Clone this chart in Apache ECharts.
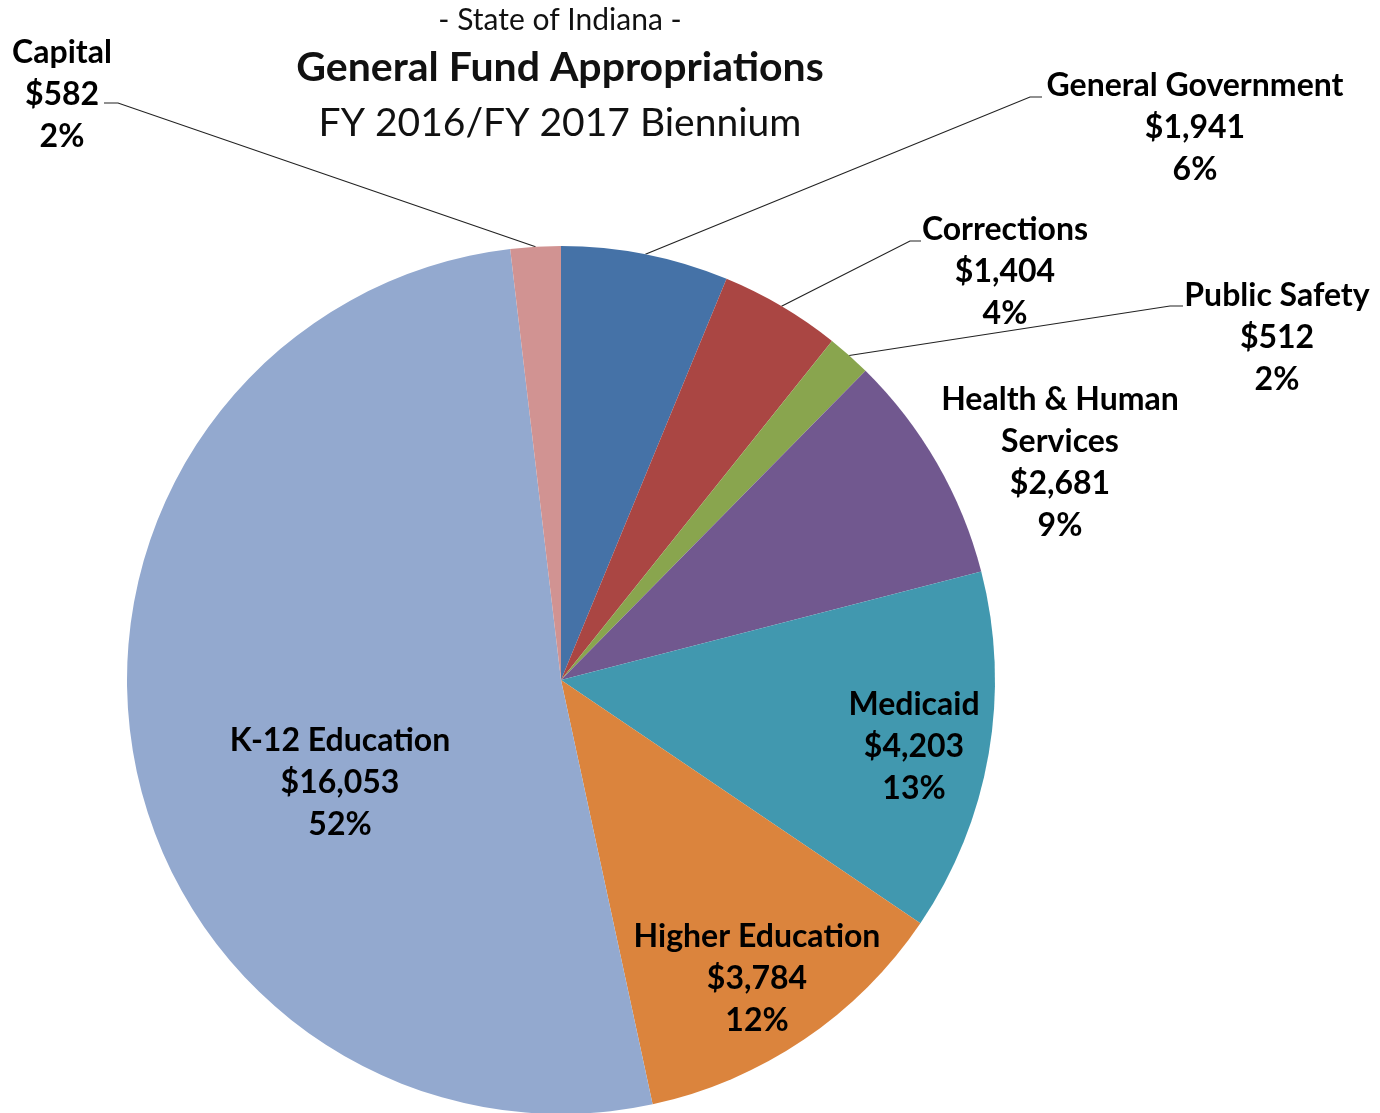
<!DOCTYPE html>
<html>
<head>
<meta charset="utf-8">
<style>
  html, body { margin: 0; padding: 0; background: #fff; }
  #chart { width: 1380px; height: 1113px; }
</style>
<script src="https://cdn.jsdelivr.net/npm/echarts@6/dist/echarts.min.js"></script>
</head>
<body>
<div id="chart"></div>
<script>
// appropriations, $ millions, clockwise from 12 o'clock
const categories = ["General Government", "Corrections", "Public Safety", "Health & Human\nServices", "Medicaid", "Higher Education", "K-12 Education", "Capital"];
const amounts = [1941, 1404, 512, 2681, 4203, 3784, 16053, 582];
const colors = ["#4572A7", "#AA4643", "#89A54E", "#71588F", "#4198AF", "#DB843D", "#93A9CF", "#D19392"];

const titleLines = ["- State of Indiana -", "General Fund Appropriations", "FY 2016/FY 2017 Biennium"];

// label block centres and leader elbows (layout only)
const labelPos = [[1195, 128], [1005, 272], [1277, 338], [1060, 463], [914, 747], [757, 979], [340, 783], [62, 95]];
const labelInside = [false, false, false, false, true, true, true, false];
const leaders = [
  [[1030, 97], [1042, 97]],
  [[910, 241], [921, 241]],
  [[1170, 306], [1183, 306]],
  null, null, null, null,
  [[118, 103], [104, 103]]
];

const CX = 561, CY = 680, R = 434;
const total = amounts.reduce((a, b) => a + b, 0);

function edgePoint(i) {
  let before = 0;
  for (let k = 0; k < i; k++) before += amounts[k];
  const mid = (before + amounts[i] / 2) / total * Math.PI * 2;
  return [CX + R * Math.sin(mid), CY - R * Math.cos(mid)];
}

const font = "Lato, 'Open Sans', sans-serif";
let myChart = echarts.init(document.getElementById("chart"));

let option = {
  animation: false,
  graphic: [
    { type: "text", x: 560, y: 20, style: { text: titleLines[0], font: "normal 30px " + font, fill: "#111", align: "center", verticalAlign: "middle" } },
    { type: "text", x: 560, y: 68, style: { text: titleLines[1], font: "bold 41px " + font, fill: "#111", align: "center", verticalAlign: "middle" } },
    { type: "text", x: 560, y: 123, style: { text: titleLines[2], font: "normal 39px " + font, fill: "#111", align: "center", verticalAlign: "middle" } }
  ],
  series: [
    {
      type: "pie",
      center: [CX, CY],
      radius: R,
      startAngle: 90,
      clockwise: true,
      percentPrecision: 0,
      avoidLabelOverlap: false,
      itemStyle: { borderWidth: 0 },
      label: {
        formatter: p => p.name + "\n$" + p.value.toLocaleString("en-US") + "\n" + p.percent + "%",
        fontFamily: font,
        fontSize: 32,
        fontWeight: "bold",
        color: "#000",
        lineHeight: 42,
        align: "center"
      },
      labelLine: { lineStyle: { color: "#222", width: 1.2 } },
      labelLayout: function (params) {
        const i = params.dataIndex;
        const res = { x: labelPos[i][0], y: labelPos[i][1], align: "center", verticalAlign: "middle" };
        if (leaders[i]) {
          res.labelLinePoints = [edgePoint(i), leaders[i][0], leaders[i][1]];
        }
        return res;
      },
      data: categories.map((name, i) => ({
        name: name,
        value: amounts[i],
        itemStyle: { color: colors[i] },
        label: { position: labelInside[i] ? "inside" : "outside" },
        labelLine: { show: !!leaders[i], length: 20, length2: 10 }
      }))
    }
  ]
};
myChart.setOption(option);
</script>
</body>
</html>
